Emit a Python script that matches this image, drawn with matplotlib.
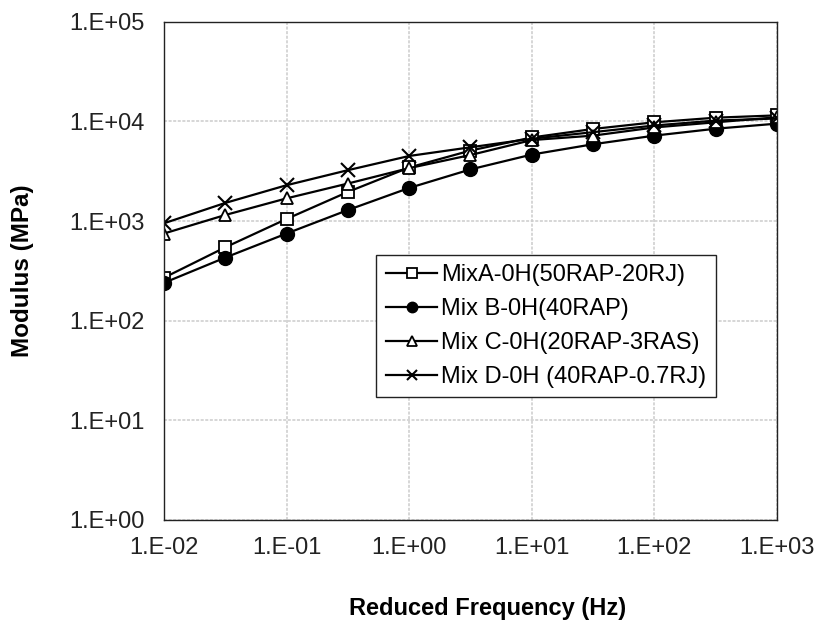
import numpy as np
import matplotlib.pyplot as plt
from matplotlib.ticker import FixedLocator, FixedFormatter, NullLocator

plt.rcParams['font.family'] = ['Liberation Sans', 'DejaVu Sans']

freq = [0.01, 0.0316, 0.1, 0.316, 1, 3.16, 10, 31.6, 100, 316, 1000]

mix_a = [270, 545, 1050, 1960, 3450, 5100, 6900, 8400, 9800, 10900, 11500]
mix_b = [240, 430, 750, 1290, 2150, 3300, 4650, 5900, 7200, 8450, 9500]
mix_c = [750, 1150, 1690, 2380, 3400, 4600, 6500, 7200, 8700, 9800, 11000]
mix_d = [950, 1520, 2290, 3240, 4500, 5500, 6700, 7800, 9100, 10200, 10700]

labels = ['MixA-0H(50RAP-20RJ)', 'Mix B-0H(40RAP)',
          'Mix C-0H(20RAP-3RAS)', 'Mix D-0H (40RAP-0.7RJ)']

xticks = [1e-2, 1e-1, 1e0, 1e1, 1e2, 1e3]
xtick_labels = ['1.E-02', '1.E-01', '1.E+00', '1.E+01', '1.E+02', '1.E+03']
yticks = [1e0, 1e1, 1e2, 1e3, 1e4, 1e5]
ytick_labels = ['1.E+00', '1.E+01', '1.E+02', '1.E+03', '1.E+04', '1.E+05']


def main():
    fig = plt.figure(figsize=(8.2, 6.22), dpi=100)
    ax = fig.add_axes([0.2, 0.164, 0.7476, 0.801])

    ax.plot(freq, mix_a, '-s', color='black', lw=1.6, ms=9,
            mfc='white', mec='black', mew=1.3, label=labels[0])
    ax.plot(freq, mix_b, '-o', color='black', lw=1.6, ms=10,
            mfc='black', mec='black', label=labels[1])
    ax.plot(freq, mix_c, '-^', color='black', lw=1.6, ms=9,
            mfc='white', mec='black', mew=1.3, label=labels[2])
    ax.plot(freq, mix_d, '-x', color='black', lw=1.6, ms=10,
            mec='black', mew=1.5, label=labels[3])

    ax.set_xscale('log')
    ax.set_yscale('log')
    ax.set_xlim(1e-2, 1e3)
    ax.set_ylim(1e0, 1e5)

    ax.xaxis.set_major_locator(FixedLocator(xticks))
    ax.xaxis.set_major_formatter(FixedFormatter(xtick_labels))
    ax.xaxis.set_minor_locator(NullLocator())
    ax.yaxis.set_major_locator(FixedLocator(yticks))
    ax.yaxis.set_major_formatter(FixedFormatter(ytick_labels))
    ax.yaxis.set_minor_locator(NullLocator())

    ax.tick_params(axis='both', which='both', length=0, labelsize=17,
                   colors='#222222')
    ax.tick_params(axis='x', pad=12)
    ax.tick_params(axis='y', pad=14)
    ax.grid(True, color='#cccccc', linestyle=(0, (2, 1)), lw=1.1)
    ax.set_axisbelow(True)
    for sp in ax.spines.values():
        sp.set_color('#222222')
        sp.set_linewidth(1.0)

    ax.set_xlabel('Reduced Frequency (Hz)', fontsize=17, fontweight='bold')
    ax.set_ylabel('Modulus (MPa)', fontsize=17.5, fontweight='bold')
    ax.xaxis.set_label_coords(0.527, -0.155)
    ax.yaxis.set_label_coords(-0.212, 0.5)

    leg = ax.legend(loc='upper left', bbox_to_anchor=(0.346, 0.532),
                    borderaxespad=0, fontsize=17, fancybox=False,
                    edgecolor='#222222', framealpha=1, handlelength=2.2,
                    markerscale=0.75, labelspacing=0.5, borderpad=0.4,
                    handletextpad=0.15)
    leg.get_frame().set_linewidth(1.0)

    fig.savefig('out.png', dpi=100)


if __name__ == "__main__":
    main()
